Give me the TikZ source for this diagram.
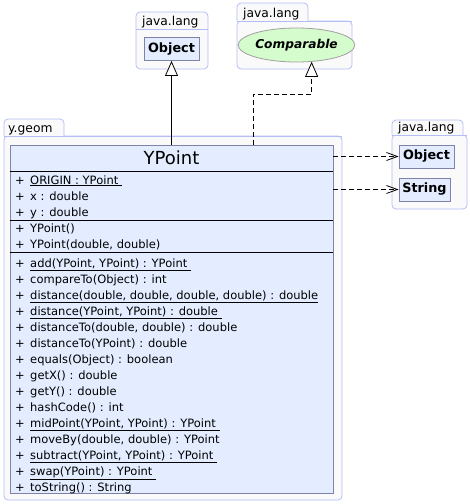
\documentclass[tikz,border=0pt]{standalone}
\usepackage{fontspec}
\setmainfont{DejaVu Sans}
\usetikzlibrary{arrows.meta,shapes.geometric}
\definecolor{pkgborder}{HTML}{B4BEF5}
\definecolor{pkgfill}{HTML}{FAFAFA}
\definecolor{clsfill}{HTML}{E3EDFF}
\definecolor{clsborder}{HTML}{7F82AB}
\definecolor{ifcfill}{HTML}{D4FCCC}
\definecolor{ifcborder}{HTML}{A0A0A0}
\tikzset{
  pkg/.style={draw=pkgborder, fill=pkgfill, line width=0.8pt, rounded corners=4pt},
  pkglabel/.style={anchor=base west, inner sep=0pt, font=\fontsize{12.3}{14}\selectfont},
  smallcls/.style={draw=clsborder, fill=clsfill, line width=0.8pt, inner sep=0pt, minimum height=23pt, font=\fontsize{12.8}{14}\selectfont\bfseries},
  member/.style={anchor=base west, inner sep=0pt, font=\fontsize{11.5}{13}\selectfont},
  sepline/.style={draw=black, line width=0.8pt},
  gen/.style={draw=black, line width=0.8pt, -{Triangle[open, length=15pt, width=13pt, fill=white]}},
  real/.style={draw=black, line width=0.8pt, dash pattern=on 5pt off 3pt, -{Triangle[open, length=15pt, width=13pt, fill=white]}},
  dep/.style={draw=black, line width=0.8pt, dash pattern=on 5pt off 3pt, -{Straight Barb[length=11pt, width=8pt]}},
}
\begin{document}
\begin{tikzpicture}[x=1pt, y=-1pt]
\useasboundingbox (0,0) rectangle (470,504);

% ---- package java.lang (Object) ----
\draw[pkg] (136,12) rectangle (208,69);
\draw[draw=pkgborder, line width=0.8pt] (136,29) -- (208,29);
\node[pkglabel] (lbl1) at (142,25) {java.lang};
\node[smallcls, minimum width=55pt] (obj) at (171.5,49) {Object};

% ---- package java.lang (Comparable) ----
\draw[pkg] (237,21) rectangle (352,69);
\draw[pkg, fill=pkgfill] (237,21) -- (237,3) -- (308,3) -- (308,21);
\draw[draw=pkgborder, line width=0.8pt] (237,21) -- (352,21);
\node[pkglabel] (lbl2) at (243,17) {java.lang};
\node[ellipse, draw=ifcborder, fill=ifcfill, line width=0.8pt, minimum width=103pt, minimum height=34pt, inner sep=0pt,
      font=\fontsize{12.2}{14}\selectfont\bfseries\itshape] (cmp) at (296.5,45) {Comparable};

% ---- package java.lang (Object, String) ----
\draw[pkg] (392,135) rectangle (467,209);
\draw[pkg] (392,135) -- (392,120) -- (463,120) -- (463,135);
\draw[draw=pkgborder, line width=0.8pt] (392,135) -- (467,135);
\node[pkglabel] (lbl3) at (398,131) {java.lang};
\node[smallcls, minimum width=55pt] (obj2) at (426.5,156.5) {Object};
\node[smallcls, minimum width=51pt] (str) at (424.5,189.5) {String};

% ---- package y.geom ----
\draw[pkg] (4,136) rectangle (342,500);
\draw[pkg] (4,136) -- (4,119) -- (64,119) -- (64,136);
\draw[draw=pkgborder, line width=0.8pt] (4,136) -- (342,136);
\node[pkglabel] (lbl4) at (8,132) {y.geom};

% ---- class YPoint ----
\node[draw=clsborder, fill=clsfill, line width=0.8pt, minimum width=323pt, minimum height=348pt, inner sep=0pt] (ypoint) at (171.5,319) {};
\node[anchor=base, inner sep=0pt, font=\fontsize{18}{20}\selectfont] (title) at (171.5,164) {YPoint};
\draw[sepline] (ypoint.west |- 0,171) -- (ypoint.east |- 0,171);
\draw[sepline] (ypoint.west |- 0,220) -- (ypoint.east |- 0,220);
\draw[sepline] (ypoint.west |- 0,252.5) -- (ypoint.east |- 0,252.5);

\foreach \y/\t [count=\i] in {
  184/{\underline{ORIGIN : YPoint\ }},
  200/{x : double},
  216/{y : double},
  232/{YPoint()},
  248/{YPoint(double, double)},
  267/{\underline{add(YPoint, YPoint) : YPoint\ }},
  283/{compareTo(Object) : int},
  299/{\underline{distance(double, double, double, double) : double}},
  315/{\underline{distance(YPoint, YPoint) : double\ }},
  331/{distanceTo(double, double) : double},
  347/{distanceTo(YPoint) : double},
  363/{equals(Object) : boolean},
  379/{getX() : double},
  395/{getY() : double},
  411/{hashCode() : int},
  427/{\underline{midPoint(YPoint, YPoint) : YPoint\ }},
  443/{moveBy(double, double) : YPoint},
  459/{\underline{subtract(YPoint, YPoint) : YPoint\ }},
  475/{\underline{swap(YPoint) : YPoint\ }},
  491/{toString() : String}} {
  \node[member] (vis\i) at (15,\y) {+};
  \node[member] (mem\i) at (30,\y) {\t};
}

% ---- connectors ----
\draw[gen] (ypoint.north) -- (obj.south);
\coordinate (cstart) at (253,145);
\coordinate (cbend) at (280,94);
\draw[real] (cstart) |- (cbend) -| (cmp.312);
\draw[dep] (ypoint.east |- obj2.west) -- (obj2.west);
\draw[dep] (ypoint.east |- str.west) -- (str.west);
\end{tikzpicture}
\end{document}
